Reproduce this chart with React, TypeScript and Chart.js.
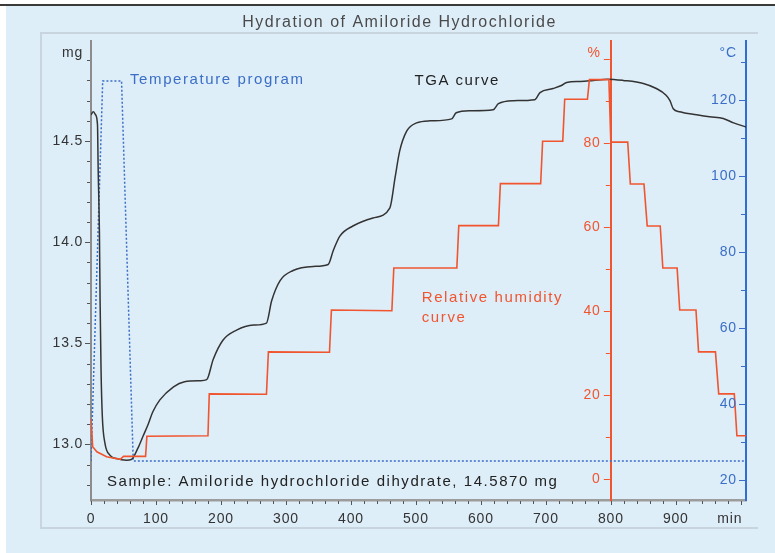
import { useEffect, useRef } from 'react';
import { Chart, registerables } from 'chart.js';

Chart.register(...registerables);

const TITLE = 'Hydration of Amiloride Hydrochloride';
const SAMPLE_NOTE = 'Sample: Amiloride hydrochloride dihydrate, 14.5870 mg';

// TGA curve (mass, mg) vs time (min)
const tgaTime = [0, 3.5, 7, 10, 11, 13, 14, 15.4, 17.4, 21.5, 29, 39.5, 55, 62, 72, 80, 88, 95, 106, 127, 144, 168, 178, 188, 203, 224, 250, 270, 278, 291, 311, 342, 365, 373, 383, 403, 434, 460, 468, 475, 486, 501, 522, 555, 562, 583, 619, 627, 650, 683, 691, 711, 724, 732, 753, 773, 795, 819, 850, 870, 885, 891, 896, 906, 932, 952, 973, 989, 1008];
const tgaMass = [14.63, 14.645, 14.63, 14.58, 14.37, 14.04, 13.71, 13.38, 13.14, 13.005, 12.947, 12.93, 12.922, 12.925, 12.98, 13.04, 13.1, 13.16, 13.22, 13.285, 13.31, 13.315, 13.32, 13.42, 13.515, 13.565, 13.59, 13.6, 13.71, 13.81, 13.86, 13.88, 13.89, 13.96, 14.03, 14.08, 14.12, 14.17, 14.32, 14.45, 14.55, 14.59, 14.6, 14.61, 14.64, 14.65, 14.655, 14.685, 14.7, 14.705, 14.74, 14.76, 14.775, 14.79, 14.795, 14.8, 14.806, 14.8, 14.785, 14.76, 14.727, 14.7, 14.66, 14.645, 14.63, 14.62, 14.612, 14.59, 14.57];

// Relative humidity curve (%) vs time (min)
const rhTime = [0, 2.6, 9, 24, 45, 50, 84, 86, 180, 182, 270, 273, 367, 370, 463, 466, 563, 566, 627, 630, 692, 695, 726, 729, 764, 767, 797, 800, 826, 830, 851, 856, 876, 880, 902, 906, 931, 935, 961, 966, 990, 994, 1008];
const rhValue = [14.5, 7.7, 6.5, 5.3, 4.7, 5.4, 5.4, 10.2, 10.3, 20.3, 20.2, 30.3, 30.2, 40.3, 40.1, 50.3, 50.3, 60.4, 60.4, 70.4, 70.4, 80.5, 80.5, 90.5, 90.5, 95.2, 95.2, 80.3, 80.3, 70.3, 70.3, 60.3, 60.3, 50.3, 50.3, 40.3, 40.3, 30.3, 30.3, 20.3, 20.3, 10.3, 10.3];

// Temperature program (°C) vs time (min)
const tempTime = [0, 18, 47, 65, 1008];
const tempValue = [25, 125, 125, 25, 25];

// Axis ticks
const xTickValues = [0, 100, 200, 300, 400, 500, 600, 700, 800, 900, 983];
const xTickLabels = ['0', '100', '200', '300', '400', '500', '600', '700', '800', '900', 'min'];
const massTickValues = [13, 13.5, 14, 14.5, 14.933];
const massTickLabels = ['13.0', '13.5', '14.0', '14.5', 'mg'];
const rhTickValues = [0, 20, 40, 60, 80, 101.5];
const rhTickLabels = ['0', '20', '40', '60', '80', '%'];
const tempTickValues = [20, 40, 60, 80, 100, 120, 132.4];
const tempTickLabels = ['20', '40', '60', '80', '100', '120', '°C'];

const X_MIN = 0, X_MAX = 1008;
const MASS_MIN = 12.725, MASS_MAX = 14.995;
const RH_MIN = -5.0, RH_MAX = 104.4;
const TEMP_MIN = 14.74, TEMP_MAX = 135.5;
const RH_AXIS_AT = 800;

const FONT = "'Liberation Sans', Arial, Helvetica, sans-serif";
const BG = '#deeef9';
const FRAME = '#c9d5de';
const RED = '#f0552f';
const BLUE = '#3b6ec6';
const BLACK = '#333333';

const toPts = (xs: number[], ys: number[]) => xs.map((x, i) => ({ x, y: ys[i] }));

function setTicks(values: number[]) {
  return (scale: any) => {
    scale.ticks = values.map((v) => ({ value: v }));
  };
}
function labelFor(values: number[], labels: string[]) {
  return (v: any) => {
    const i = values.findIndex((t) => Math.abs(t - Number(v)) < 1e-6);
    return i >= 0 ? labels[i] : '';
  };
}
function zeroPad(w?: number, h?: number) {
  return (scale: any) => {
    if (w !== undefined) scale.width = w;
    if (h !== undefined) scale.height = h;
    scale.paddingTop = 0;
    scale.paddingBottom = 0;
    scale.paddingLeft = 0;
    scale.paddingRight = 0;
  };
}

function drawText(ctx: CanvasRenderingContext2D, text: string, x: number, y: number, size: number, color: string, spacing: number, align: 'left' | 'center' | 'right' = 'left') {
  ctx.save();
  (ctx as any).letterSpacing = spacing + 'px';
  ctx.font = `${size}px ${FONT}`;
  ctx.fillStyle = color;
  ctx.textBaseline = 'middle';
  ctx.textAlign = 'left';
  let xx = x;
  const w = ctx.measureText(text).width;
  if (align === 'center') xx = x - w / 2;
  if (align === 'right') xx = x - w + spacing;
  ctx.fillText(text, xx, y);
  ctx.restore();
}

const decor = {
  id: 'decor',
  beforeUpdate(chart: any) {
    chart.ctx.letterSpacing = '0.8px';
  },
  beforeDraw(chart: any) {
    const { ctx, width, height, chartArea } = chart;
    ctx.letterSpacing = '0.8px';
    ctx.save();
    ctx.fillStyle = '#ffffff';
    ctx.fillRect(0, 0, width, height);
    ctx.fillStyle = BG;
    ctx.fillRect(6, 6, width - 6, height - 6);
    ctx.fillStyle = '#3a3a3a';
    ctx.fillRect(0, 4, width, 2);
    const fl = chartArea.left - 50, ft = chartArea.top - 8, fb = chartArea.bottom + 28, fr = chartArea.right + 12;
    ctx.strokeStyle = FRAME;
    ctx.lineWidth = 2;
    ctx.beginPath();
    ctx.moveTo(fr, ft);
    ctx.lineTo(fl, ft);
    ctx.lineTo(fl, fb);
    ctx.lineTo(fr, fb);
    ctx.stroke();
    drawText(ctx, TITLE, (fl + fr) / 2, chartArea.top - 18, 16, '#4a4a4a', 1.5, 'center');
    ctx.restore();
  },
  afterDraw(chart: any) {
    const { ctx, chartArea, scales } = chart;
    const xs = scales.x, ms = scales.y, rs = scales.rh, ts = scales.temp;
    ctx.save();
    ctx.lineWidth = 1;
    // mass ticks
    ctx.strokeStyle = '#555';
    ctx.beginPath();
    for (let i = 128; i <= 149; i++) {
      const v = i / 10;
      const y = Math.round(ms.getPixelForValue(v)) + 0.5;
      const len = i % 5 === 0 ? 5 : 3;
      ctx.moveTo(chartArea.left - 1, y);
      ctx.lineTo(chartArea.left - 1 - len, y);
    }
    ctx.stroke();
    // x ticks
    ctx.beginPath();
    for (let t = 0; t <= 1000; t += 20) {
      const x = Math.round(xs.getPixelForValue(t)) + 0.5;
      const len = t % 100 === 0 ? 4 : 3;
      ctx.moveTo(x, chartArea.bottom + 1);
      ctx.lineTo(x, chartArea.bottom + 1 + len);
    }
    ctx.stroke();
    // rh ticks
    const rx = xs.getPixelForValue(RH_AXIS_AT);
    ctx.strokeStyle = RED;
    ctx.beginPath();
    for (let v = 0; v <= 100; v += 10) {
      const y = Math.round(rs.getPixelForValue(v)) + 0.5;
      const len = v % 20 === 0 ? 6 : 4;
      ctx.moveTo(rx - 1, y);
      ctx.lineTo(rx - 1 - len, y);
    }
    ctx.stroke();
    // temp ticks
    const tx = chartArea.right;
    ctx.strokeStyle = BLUE;
    ctx.beginPath();
    for (let v = 20; v <= 130; v += 10) {
      const y = Math.round(ts.getPixelForValue(v)) + 0.5;
      const len = v % 20 === 0 ? 6 : 4;
      ctx.moveTo(tx - 1, y);
      ctx.lineTo(tx - 1 - len, y);
    }
    ctx.stroke();
    ctx.restore();

    // tick labels of the two inner axes, placed by their scales
    rhTickValues.forEach((v, i) => drawText(ctx, rhTickLabels[i], rx - 11, rs.getPixelForValue(v), 14, RED, 0.8, 'right'));
    tempTickValues.forEach((v, i) => drawText(ctx, tempTickLabels[i], tx - 10, ts.getPixelForValue(v), 14, BLUE, 0.8, 'right'));

    // annotations
    drawText(ctx, 'Temperature program', xs.getPixelForValue(60), ts.getPixelForValue(125.3), 15, BLUE, 1.6);
    drawText(ctx, 'TGA curve', xs.getPixelForValue(498), ms.getPixelForValue(14.797), 15, '#222', 1.5);
    drawText(ctx, 'Relative humidity', xs.getPixelForValue(509), rs.getPixelForValue(43.1), 15, RED, 1.6);
    drawText(ctx, 'curve', xs.getPixelForValue(509), rs.getPixelForValue(38.4), 15, RED, 1.6);
    drawText(ctx, SAMPLE_NOTE, xs.getPixelForValue(24.6), ms.getPixelForValue(12.814), 15, '#222', 1.55);
  },
};

export default function App() {
  const ref = useRef<HTMLCanvasElement>(null);
  useEffect(() => {
    const canvas = ref.current;
    if (!canvas) return;
    Chart.defaults.font.family = FONT;
    const tickFont = { size: 14, family: FONT };
    const chart = new Chart(canvas, {
      type: 'line',
      data: {
        datasets: [
          {
            label: 'Relative humidity',
            data: toPts(rhTime, rhValue),
            yAxisID: 'rh',
            borderColor: RED,
            borderWidth: 1.6,
            pointRadius: 0,
            tension: 0,
            fill: false,
          },
          {
            label: 'TGA',
            data: toPts(tgaTime, tgaMass),
            yAxisID: 'y',
            borderColor: BLACK,
            borderWidth: 1.5,
            pointRadius: 0,
            cubicInterpolationMode: 'monotone',
            fill: false,
          },
          {
            label: 'Temperature program',
            data: toPts(tempTime, tempValue),
            yAxisID: 'temp',
            borderColor: BLUE,
            borderWidth: 1.5,
            borderDash: [2, 2],
            pointRadius: 0,
            tension: 0,
            fill: false,
          },
        ],
      },
      options: {
        responsive: false,
        animation: false,
        devicePixelRatio: 1,
        parsing: false,
        normalized: true,
        layout: { padding: { left: 50, right: 29, top: 41, bottom: 0 } },
        plugins: {
          legend: { display: false },
          title: { display: false },
          tooltip: { enabled: false },
        },
        events: [],
        scales: {
          x: {
            type: 'linear',
            axis: 'x',
            position: 'bottom',
            min: X_MIN,
            max: X_MAX,
            afterBuildTicks: setTicks(xTickValues),
            afterFit: zeroPad(undefined, 53),
            grid: { drawOnChartArea: false, drawTicks: false },
            border: { display: true, color: '#9c9c9c', width: 2.5 },
            ticks: { callback: labelFor(xTickValues, xTickLabels), font: tickFont, color: '#333', padding: 11, maxRotation: 0, autoSkip: false },
          },
          y: {
            type: 'linear',
            axis: 'y',
            position: 'left',
            min: MASS_MIN,
            max: MASS_MAX,
            afterBuildTicks: setTicks(massTickValues),
            afterFit: zeroPad(41, undefined),
            grid: { drawOnChartArea: false, drawTicks: false },
            border: { display: true, color: '#8c8c8c', width: 2 },
            ticks: { callback: labelFor(massTickValues, massTickLabels), font: tickFont, color: '#333', padding: 8, autoSkip: false },
          },
          rh: {
            type: 'linear',
            axis: 'y',
            position: { x: RH_AXIS_AT } as any,
            min: RH_MIN,
            max: RH_MAX,
            afterBuildTicks: setTicks(rhTickValues),
            afterFit: zeroPad(),
            grid: { drawOnChartArea: false, drawTicks: false },
            border: { display: true, color: RED, width: 2 },
            ticks: { display: false },
          },
          temp: {
            type: 'linear',
            axis: 'y',
            position: { x: X_MAX } as any,
            min: TEMP_MIN,
            max: TEMP_MAX,
            afterBuildTicks: setTicks(tempTickValues),
            afterFit: zeroPad(),
            grid: { drawOnChartArea: false, drawTicks: false },
            border: { display: true, color: '#2f6fd4', width: 2 },
            ticks: { display: false },
          },
        },
      },
      plugins: [decor],
    } as any);
    return () => chart.destroy();
  }, []);
  return (
    <div style={{ position: 'fixed', left: 0, top: 0, width: 775, height: 553 }}>
      <canvas ref={ref} width={775} height={553} style={{ display: 'block', width: 775, height: 553 }} />
    </div>
  );
}
